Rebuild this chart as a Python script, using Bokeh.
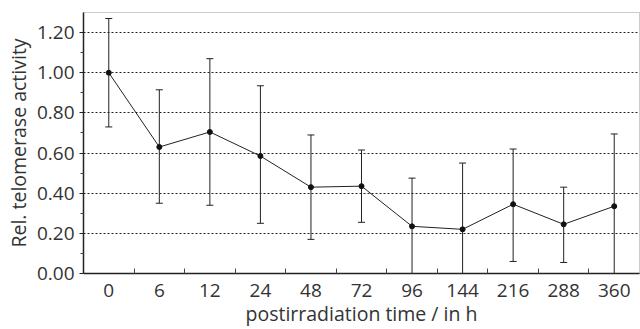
from bokeh.plotting import figure
from bokeh.models import FixedTicker, Whisker, ColumnDataSource, Range1d
from bokeh.embed import file_html
from bokeh.resources import INLINE

categories = ["0", "6", "12", "24", "48", "72", "96", "144", "216", "288", "360"]
mean = [1.00, 0.63, 0.705, 0.585, 0.43, 0.435, 0.235, 0.22, 0.345, 0.245, 0.335]
upper = [1.27, 0.915, 1.07, 0.935, 0.69, 0.615, 0.475, 0.55, 0.62, 0.43, 0.695]
lower = [0.73, 0.35, 0.34, 0.25, 0.17, 0.255, 0.0, 0.0, 0.06, 0.055, 0.0]
y_ticks = [0.0, 0.2, 0.4, 0.6, 0.8, 1.0, 1.2]

xs = list(range(len(categories)))
src = ColumnDataSource(dict(x=xs, y=mean, upper=upper, lower=lower))

FONT = "Open Sans"
TXT = "#333333"

p = figure(width=640, height=329, output_backend="svg", toolbar_location=None,
           x_range=Range1d(-0.5, len(categories) - 0.5), y_range=Range1d(0, 1.30),
           min_border_left=83, min_border_right=1, min_border_top=12, min_border_bottom=56)

p.xgrid.visible = False
p.ygrid.ticker = FixedTicker(ticks=y_ticks[1:])
p.ygrid.grid_line_color = "#222222"
p.ygrid.grid_line_dash = "2 2"
p.ygrid.grid_line_width = 1

p.outline_line_color = "#999999"
p.outline_line_dash = "1 1"

p.xaxis.ticker = FixedTicker(ticks=xs, minor_ticks=[i + 0.5 for i in xs[:-1]])
p.xaxis.major_label_overrides = {i: c for i, c in enumerate(categories)}
p.xaxis.major_tick_in = 0
p.xaxis.major_tick_out = 0
p.xaxis.minor_tick_in = 5
p.xaxis.minor_tick_out = 0
p.xaxis.axis_label = "postirradiation time / in h"

p.yaxis.ticker = FixedTicker(ticks=y_ticks, minor_ticks=[0.1, 0.3, 0.5, 0.7, 0.9, 1.1])
p.yaxis.major_label_overrides = {t: f"{t:.2f}" for t in y_ticks}
p.yaxis.major_tick_in = 0
p.yaxis.major_tick_out = 4
p.yaxis.minor_tick_in = 0
p.yaxis.minor_tick_out = 3
p.yaxis.axis_label = "Rel. telomerase activity"

for ax in (p.xaxis, p.yaxis):
    ax.axis_line_color = "#222222"
    ax.axis_line_width = 1.5
    ax.major_tick_line_color = "#222222"
    ax.minor_tick_line_color = "#444444"
    ax.major_label_text_font = FONT
    ax.major_label_text_font_size = "19px"
    ax.major_label_text_color = TXT
    ax.axis_label_text_font = FONT
    ax.axis_label_text_font_size = "19.5px"
    ax.axis_label_text_font_style = "normal"
    ax.axis_label_text_color = TXT

p.xaxis.major_label_standoff = 10
p.xaxis.axis_label_standoff = 0
p.yaxis.major_label_standoff = 5
p.yaxis.axis_label_standoff = 2

w = Whisker(source=src, base="x", upper="upper", lower="lower",
            line_color="#222222", line_width=1)
w.upper_head.size = 7
w.lower_head.size = 7
w.upper_head.line_color = "#222222"
w.lower_head.line_color = "#222222"
p.add_layout(w)

p.line("x", "y", source=src, line_color="#222222", line_width=1)
p.scatter("x", "y", source=src, size=5, color="#111111")

open("out.html", "w").write(file_html(p, INLINE))
